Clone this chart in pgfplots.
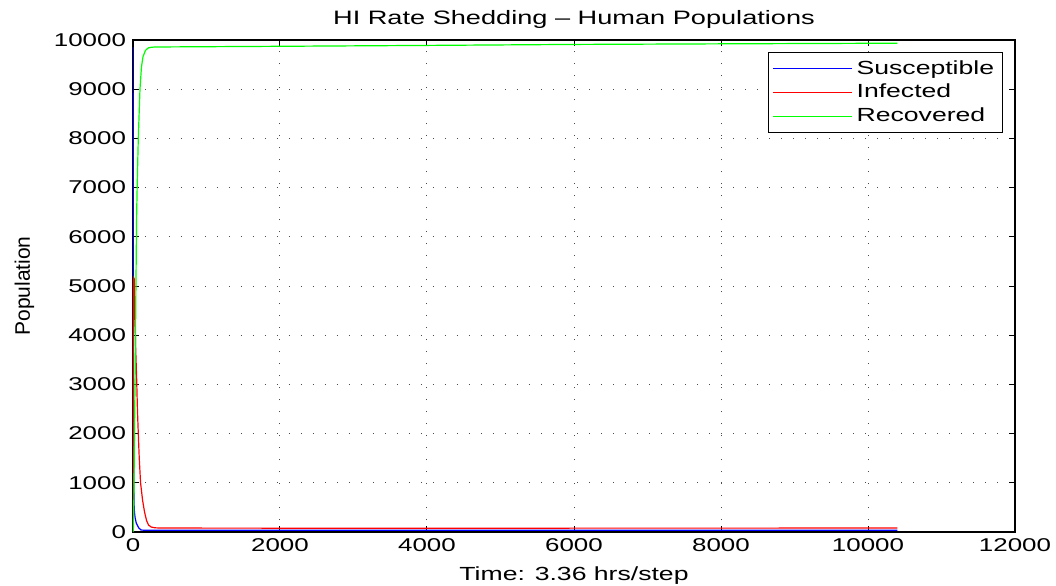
\documentclass[border=0pt]{standalone}
\usepackage{fontspec}
\setmainfont{Liberation Sans}[FakeStretch=1.4]
\newfontfamily\ylfont{Liberation Sans}
\usepackage{pgfplots}
\pgfplotsset{compat=1.18}
\usepackage{pgfplotstable}

% Human population compartments (time step, count)
\pgfplotstableread{
t     S
0     9850
2     9000
4     6500
6     3500
8     1800
10    1000
15    550
20    400
30    280
45    180
58    140
80    80
110   40
150   36
300   35
2000  35
5000  35
8000  35
10400 35
}\susceptible

\pgfplotstableread{
t     I
0     150
2     900
4     3000
6     4600
8     5050
12    5160
18    5140
25    4600
35    3800
50    3100
60    2500
72    2000
85    1500
103   1000
130   650
158   400
185   230
212   140
250   100
300   85
400   80
2000  78
5000  78
8000  79
10400 80
}\infected

\pgfplotstableread{
t     R
0     0
5     50
10    400
15    1200
20    2000
30    3300
40    5000
50    6500
58    7100
72    8000
95    9000
115   9450
136   9660
170   9790
210   9840
250   9852
300   9858
2000  9872
4000  9890
6000  9910
8000  9922
10400 9935
}\recovered

\begin{document}
\begin{tikzpicture}[x=1pt,y=1pt]
\begin{axis}[
  at={(66.5pt,26.5pt)}, anchor=south west,
  scale only axis,
  width=441pt, height=246pt,
  xmin=0, xmax=12000, ymin=0, ymax=10000,
  xtick={0,2000,...,12000},
  ytick={0,1000,...,10000},
  scaled ticks=false,
  /pgf/number format/assume math mode=true,
  /pgf/number format/set thousands separator={},
  tick label style={font=\fontsize{9.25}{11}\selectfont},
  tick align=inside,
  xtick pos=both, ytick pos=both,
  major tick length=3pt,
  tick style={black, line width=0.5pt},
  axis line style={black, line width=0.6pt},
  grid=major,
  major grid style={black!70, line width=0.5pt, dash pattern=on 0.6pt off 5.4pt},
  title={HI Rate Shedding -- Human Populations},
  title style={font=\fontsize{9.7}{11}\selectfont, yshift=-4pt},
  xlabel={Time: 3.36 hrs/step},
  xlabel style={font=\fontsize{9.5}{11}\selectfont, yshift=-0.5pt},
  ylabel={Population},
  ylabel style={font=\ylfont\fontsize{10.5}{12}\selectfont, yshift=3pt},
  legend style={at={(0.986,0.976)}, anchor=north east,
    draw=black, line width=0.5pt, inner sep=2pt,
    font=\fontsize{9.5}{11}\selectfont,
    cells={anchor=west}, row sep=-0.5pt},
  legend image code/.code={\draw[#1] (0cm,0cm) -- (39.5pt,0cm);},
]
\addplot[blue, line width=0.6pt] table[x=t, y=S] {\susceptible};
\addlegendentry{Susceptible}
\addplot[red, line width=0.6pt] table[x=t, y=I] {\infected};
\addlegendentry{Infected}
\addplot[green, line width=0.6pt] table[x=t, y=R] {\recovered};
\addlegendentry{Recovered}
\end{axis}
\pgfresetboundingbox
\path[use as bounding box] (0,0) rectangle (528pt,292.5pt);
\end{tikzpicture}
\end{document}
